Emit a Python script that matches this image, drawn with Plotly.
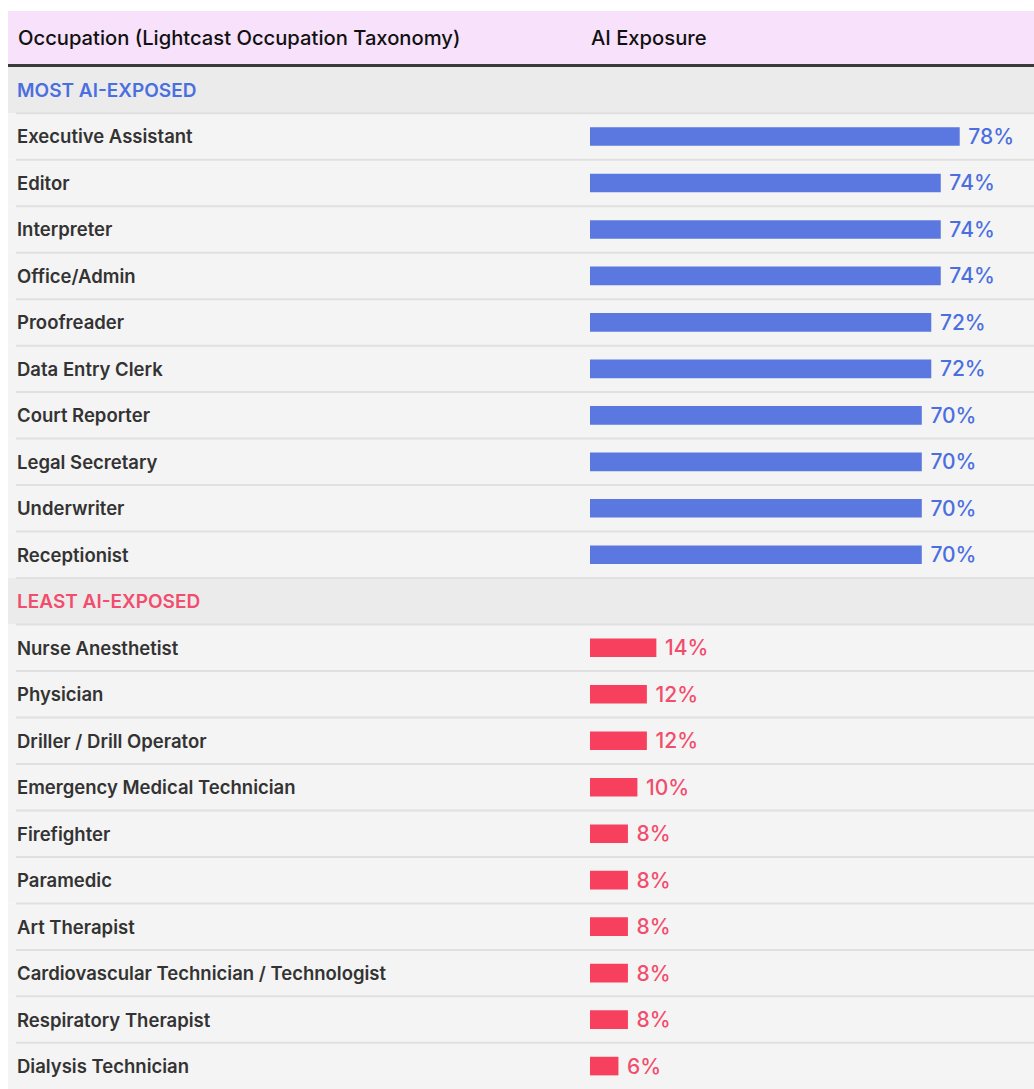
import plotly.graph_objects as go

# ---- data ----
most_occupations = ["Executive Assistant", "Editor", "Interpreter", "Office/Admin", "Proofreader",
                    "Data Entry Clerk", "Court Reporter", "Legal Secretary", "Underwriter", "Receptionist"]
most_values = [78, 74, 74, 74, 72, 72, 70, 70, 70, 70]
least_occupations = ["Nurse Anesthetist", "Physician", "Driller / Drill Operator",
                     "Emergency Medical Technician", "Firefighter", "Paramedic", "Art Therapist",
                     "Cardiovascular Technician / Technologist", "Respiratory Therapist", "Dialysis Technician"]
least_values = [14, 12, 12, 10, 8, 8, 8, 8, 8, 6]
section_labels = ["MOST AI-EXPOSED", "LEAST AI-EXPOSED"]
header_labels = ["Occupation (Lightcast Occupation Taxonomy)", "AI Exposure"]

# ---- styles ----
W, H = 1034, 1089
BLUE = "#5a78e0"
RED = "#f7405e"
BLUE_TXT = "#4c6fe0"
RED_TXT = "#f24d6c"
FONT = "Inter"
ROW_PX = 46.48
ROW0_PX = 90.0       # pixel centre of first row
BAR_X0_PX = 590.0
PX_PER_PCT = 4.74
LEFT_PX = 8

rows = []
rows.append(("section", section_labels[0], BLUE_TXT))
for o in most_occupations:
    rows.append(("row", o, None))
rows.append(("section", section_labels[1], RED_TXT))
for o in least_occupations:
    rows.append(("row", o, None))

data_idx = [i for i, r in enumerate(rows) if r[0] == "row"]
most_y = data_idx[:len(most_occupations)]
least_y = data_idx[len(most_occupations):]

fig = go.Figure()
fig.add_trace(go.Bar(
    x=most_values, y=most_y, orientation="h", width=0.4,
    marker=dict(color=BLUE, line=dict(width=0)),
    text=[f" {v}%" for v in most_values], textposition="outside", constraintext="none",
    textfont=dict(color=BLUE_TXT, size=21, family=FONT, weight=500), cliponaxis=False,
    hovertext=most_occupations, hoverinfo="text+x",
))
fig.add_trace(go.Bar(
    x=least_values, y=least_y, orientation="h", width=0.4,
    marker=dict(color=RED, line=dict(width=0)),
    text=[f" {v}%" for v in least_values], textposition="outside", constraintext="none",
    textfont=dict(color=RED_TXT, size=21, family=FONT, weight=500), cliponaxis=False,
    hovertext=least_occupations, hoverinfo="text+x",
))

shapes = []
annotations = []
x_left = LEFT_PX / W
for i, (kind, label, col) in enumerate(rows):
    fill = "#ebebeb" if kind == "section" else "#f4f4f4"
    shapes.append(dict(type="rect", xref="paper", yref="y", x0=x_left, x1=1, y0=i - 0.5, y1=i + 0.5,
                       fillcolor=fill, line=dict(width=0), layer="below"))
    if i > 0:
        shapes.append(dict(type="line", xref="paper", yref="y", x0=x_left + 8 / W, x1=1, y0=i - 0.5, y1=i - 0.5,
                           line=dict(color="#e0e0e0", width=2), layer="below"))
    if kind == "section":
        annotations.append(dict(xref="paper", yref="y", x=15 / W, y=i, text=label, showarrow=False,
                                xanchor="left", yanchor="middle",
                                font=dict(family=FONT, size=19, color=col, weight=600)))
    else:
        annotations.append(dict(xref="paper", yref="y", x=15 / W, y=i, text=label, showarrow=False,
                                xanchor="left", yanchor="middle",
                                font=dict(family=FONT, size=18.5, color="#333333", weight=600)))

def py(px):
    return 1 - px / H

shapes.append(dict(type="rect", xref="paper", yref="paper", x0=x_left, x1=1, y0=py(64), y1=py(11),
                   fillcolor="#f8e1fb", line=dict(width=0)))
shapes.append(dict(type="line", xref="paper", yref="paper", x0=x_left, x1=1, y0=py(65.5), y1=py(65.5),
                   line=dict(color="#3a3a3a", width=3)))
annotations.append(dict(xref="paper", yref="paper", x=16 / W, y=py(38), text=header_labels[0],
                        showarrow=False, xanchor="left", yanchor="middle",
                        font=dict(family=FONT, size=20.2, color="#111111", weight=500)))
annotations.append(dict(xref="paper", yref="paper", x=589 / W, y=py(38), text=header_labels[1],
                        showarrow=False, xanchor="left", yanchor="middle",
                        font=dict(family=FONT, size=20.2, color="#111111", weight=500)))

x_min = -BAR_X0_PX / PX_PER_PCT
x_max = (W - BAR_X0_PX) / PX_PER_PCT
y_top = (0 - ROW0_PX) / ROW_PX
y_bot = (H - ROW0_PX) / ROW_PX

fig.update_layout(
    width=W, height=H, margin=dict(l=0, r=0, t=0, b=0),
    paper_bgcolor="white", plot_bgcolor="rgba(0,0,0,0)",
    showlegend=False, barmode="overlay",
    xaxis=dict(range=[x_min, x_max], visible=False, fixedrange=True),
    yaxis=dict(range=[y_bot, y_top], visible=False, fixedrange=True),
    shapes=shapes, annotations=annotations,
    font=dict(family=FONT),
)

fig.write_html("out.html", config={"displayModeBar": False},
               post_script="document.body.style.margin='0';document.body.style.overflow='hidden';")
